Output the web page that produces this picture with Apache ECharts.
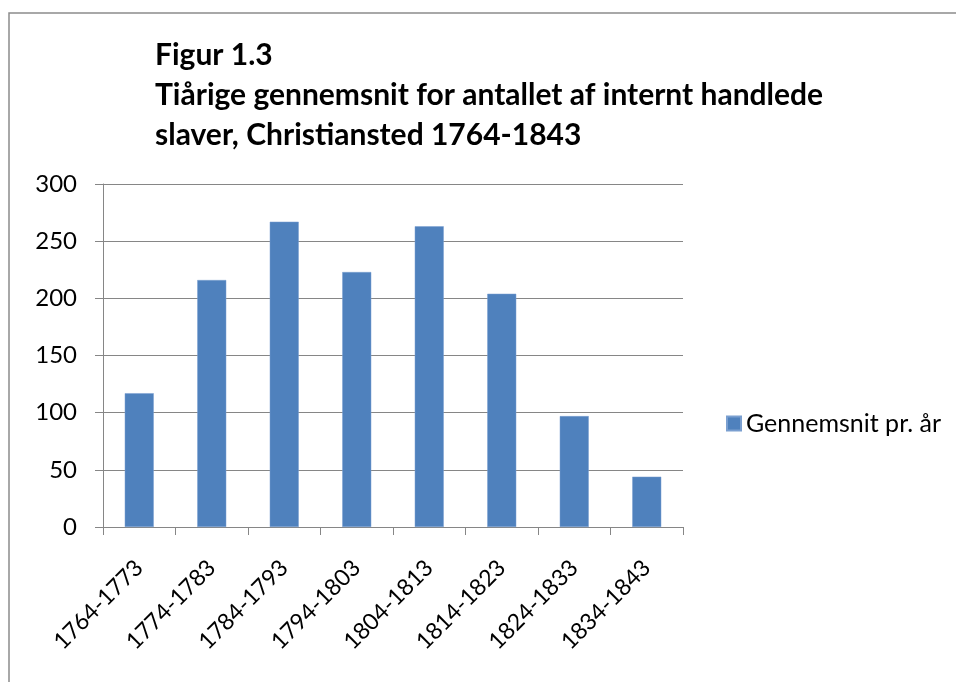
<!DOCTYPE html>
<html><head><meta charset="utf-8">
<script src="https://cdn.jsdelivr.net/npm/echarts@6/dist/echarts.min.js"></script>
<style>html,body{margin:0;padding:0;background:#fff}#c{width:956px;height:682px}</style>
</head><body><div id="c"></div>
<script>
const titleLines = ['Figur 1.3', 'Tiårige gennemsnit for antallet af internt handlede', 'slaver, Christiansted 1764-1843'];
const categories = ['1764-1773','1774-1783','1784-1793','1794-1803','1804-1813','1814-1823','1824-1833','1834-1843'];
const seriesName = 'Gennemsnit pr. år';
const values = [117, 216, 267, 223, 263, 204, 97, 44];
const yTicks = {min: 0, max: 300, interval: 50};

const FONT = 'Lato';
const chart = echarts.init(document.getElementById('c'));
chart.setOption({
  animation: false,
  backgroundColor: '#fff',
  graphic: [{
    type: 'rect', shape: {x: 9, y: 13, width: 1000, height: 1000},
    style: {fill: 'none', stroke: '#8c8c8c', lineWidth: 1.5}, silent: true
  }],
  title: {
    text: titleLines.join('\n'), left: 150, top: 30,
    textStyle: {fontFamily: FONT, fontSize: 30, fontWeight: 'bold', color: '#000', lineHeight: 40}
  },
  legend: {
    orient: 'vertical', left: 721, top: 406, itemWidth: 14, itemHeight: 14, itemGap: 6,
    icon: 'rect',
    textStyle: {fontFamily: FONT, fontSize: 25, color: '#000'}
  },
  grid: {left: 103, right: 273, top: 184, bottom: 155, containLabel: false},
  xAxis: {
    type: 'category', data: categories, boundaryGap: true,
    axisLine: {lineStyle: {color: '#868686', width: 1}},
    axisTick: {show: true, alignWithLabel: false, length: 8, lineStyle: {color: '#868686'}},
    axisLabel: {rotate: 45, fontFamily: FONT, fontSize: 23, color: '#000', margin: 37, interval: 0}
  },
  yAxis: {
    type: 'value', min: yTicks.min, max: yTicks.max, interval: yTicks.interval,
    axisLine: {show: true, lineStyle: {color: '#868686'}},
    axisTick: {show: true, length: 8, lineStyle: {color: '#868686'}},
    axisLabel: {fontFamily: FONT, fontSize: 24, color: '#000', margin: 26},
    splitLine: {lineStyle: {color: '#868686', width: 1}}
  },
  series: [{
    name: seriesName, type: 'bar', data: values, barCategoryGap: '60%',
    itemStyle: {color: '#4F81BD', borderColor: '#7a9fd0', borderWidth: 0.5}
  }]
});
</script></body></html>
